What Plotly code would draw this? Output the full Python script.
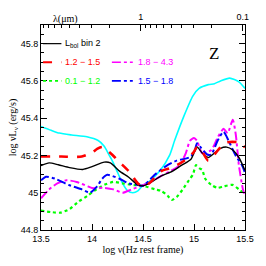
import plotly.graph_objects as go
import numpy as np

# ---- data (log nu, log nuLnu) ----
black_x = [13.5, 13.58, 13.67, 13.78, 13.91, 14.0, 14.12, 14.18, 14.27, 14.36, 14.45, 14.5, 14.56, 14.68, 14.79, 14.88, 14.97, 15.03, 15.08, 15.14, 15.2, 15.26, 15.32, 15.38, 15.44, 15.5]
black_y = [45.145, 45.16, 45.15, 45.135, 45.125, 45.14, 45.164, 45.16, 45.116, 45.083, 45.042, 45.037, 45.05, 45.09, 45.116, 45.148, 45.18, 45.245, 45.213, 45.189, 45.213, 45.238, 45.245, 45.229, 45.189, 45.12]

red_x = [13.5, 13.7, 13.9, 14.0, 14.05, 14.1, 14.18, 14.27, 14.36, 14.45, 14.5, 14.56, 14.68, 14.77, 14.86, 14.95, 15.0, 15.03, 15.08, 15.14, 15.2, 15.26, 15.32, 15.44, 15.47, 15.5]
red_y = [45.194, 45.194, 45.194, 45.215, 45.235, 45.245, 45.213, 45.164, 45.116, 45.05, 45.034, 45.05, 45.116, 45.132, 45.156, 45.19, 45.22, 45.245, 45.221, 45.172, 45.205, 45.245, 45.27, 45.27, 45.254, 45.245]

blue_x = [13.5, 13.55, 13.64, 13.77, 13.9, 13.98, 14.05, 14.1, 14.15, 14.27, 14.36, 14.45, 14.5, 14.62, 14.74, 14.83, 14.95, 15.0, 15.03, 15.07, 15.13, 15.17, 15.23, 15.29, 15.34, 15.41, 15.47, 15.5]
blue_y = [45.067, 45.086, 45.075, 45.042, 45.018, 45.0, 45.034, 45.075, 45.096, 45.075, 45.05, 45.042, 45.037, 45.099, 45.148, 45.172, 45.189, 45.213, 45.265, 45.24, 45.205, 45.205, 45.278, 45.327, 45.278, 45.197, 45.148, 45.107]

mag_x = [13.5, 13.58, 13.66, 13.75, 13.85, 13.96, 14.0, 14.12, 14.21, 14.3, 14.39, 14.48, 14.55, 14.68, 14.77, 14.86, 14.92, 14.96, 15.0, 15.03, 15.08, 15.17, 15.23, 15.29, 15.33, 15.38, 15.41, 15.44, 15.48, 15.5]
mag_y = [44.97, 45.018, 45.05, 45.067, 45.058, 45.034, 45.025, 45.026, 45.018, 45.0, 45.018, 45.037, 45.05, 45.091, 45.116, 45.148, 45.213, 45.278, 45.294, 45.278, 45.213, 45.229, 45.294, 45.343, 45.32, 45.392, 45.31, 45.148, 45.018, 44.985]

green_x = [13.5, 13.6, 13.69, 13.78, 13.87, 13.96, 14.02, 14.12, 14.21, 14.3, 14.39, 14.5, 14.62, 14.68, 14.74, 14.78, 14.83, 14.89, 14.95, 14.99, 15.02, 15.05, 15.08, 15.11, 15.17, 15.23, 15.29, 15.38, 15.44, 15.5]
green_y = [44.904, 44.896, 44.893, 44.912, 44.953, 44.985, 45.01, 45.042, 45.058, 45.05, 45.042, 45.037, 45.018, 45.01, 44.985, 44.961, 44.977, 45.018, 45.067, 45.099, 45.148, 45.132, 45.123, 45.075, 45.042, 45.026, 45.034, 45.042, 45.018, 44.994]

cyan_x = [13.5, 13.6, 13.68, 13.8, 13.95, 14.06, 14.12, 14.16, 14.2, 14.25, 14.3, 14.35, 14.4, 14.45, 14.5, 14.56, 14.67, 14.76, 14.81, 14.9, 14.99, 15.05, 15.14, 15.2, 15.26, 15.35, 15.44, 15.5]
cyan_y = [45.356, 45.335, 45.32, 45.31, 45.30, 45.28, 45.25, 45.21, 45.17, 45.11, 45.05, 45.01, 45.0, 45.01, 45.04, 45.06, 45.12, 45.2, 45.28, 45.41, 45.52, 45.56, 45.58, 45.585, 45.6, 45.615, 45.595, 45.56]

legend_labels = ["L<sub>bol</sub> bin 2", "1.2 − 1.5", "1.8 − 4.3", "0.1 − 1.2", "1.5 − 1.8"]
x_tick_vals = [13.5, 14, 14.5, 15, 15.5]
x_tick_text = ["13.5", "14", "14.5", "15", "15.5"]
y_tick_vals = [44.8, 45, 45.2, 45.4, 45.6, 45.8]
y_tick_text = ["44.8", "45", "45.2", "45.4", "45.6", "45.8"]
top_tick_vals_um = [1, 0.1]
top_tick_text = ["1", "0.1"]
top_minor_um = [9, 8, 7, 6, 5, 4, 3, 2, 0.9, 0.8, 0.7, 0.6, 0.5, 0.4, 0.3, 0.2]

def lognu(lam_um):
    return float(np.log10(2.99792458e14 / lam_um))

fig = go.Figure()
series = [
    (cyan_x, cyan_y, "#00ffff", "solid", 1.6),
    (green_x, green_y, "#00ff00", "dot", 2.2),
    (mag_x, mag_y, "#ff00ff", "dashdot", 2.0),
    (blue_x, blue_y, "#0000ff", "dashdot", 2.0),
    (black_x, black_y, "#000000", "solid", 1.4),
    (red_x, red_y, "#ff0000", "dash", 2.6),
]
for xs, ys, c, d, w in series:
    fig.add_trace(go.Scatter(x=xs, y=ys, mode="lines", line=dict(color=c, dash=d, width=w, shape="spline", smoothing=0.6), showlegend=False, hoverinfo="skip"))

# invisible trace carrying the top (wavelength) axis
fig.add_trace(go.Scatter(x=[13.5, 15.5], y=[45, 45], xaxis="x2", mode="lines", line=dict(width=0), showlegend=False, hoverinfo="skip"))

# manual legend
leg = [
    (13.52, 13.70, 13.72, 45.8, "#000000", "solid", 1.2, legend_labels[0]),
    (13.52, 13.70, 13.72, 45.7, "#ff0000", "dash", 2.0, legend_labels[1]),
    (14.195, 14.40, 14.43, 45.7, "#ff00ff", "dashdot", 1.6, legend_labels[2]),
    (13.52, 13.70, 13.72, 45.6, "#00ff00", "dot", 1.6, legend_labels[3]),
    (14.195, 14.40, 14.43, 45.6, "#0000ff", "dashdot", 1.6, legend_labels[4]),
]
shapes = []
annotations = []
for x0, x1, xt, y, c, d, w, t in leg:
    shapes.append(dict(type="line", xref="x", yref="y", x0=x0, x1=x1, y0=y, y1=y, line=dict(color=c, dash=d, width=w)))
    annotations.append(dict(x=xt, y=y, xref="x", yref="y", text=t, showarrow=False, xanchor="left", yanchor="middle",
                            font=dict(family="Liberation Sans", size=9, color=c)))
annotations.append(dict(x=15.2, y=45.745, xref="x", yref="y", text="Z", showarrow=False,
                        font=dict(family="Liberation Serif", size=17, color="black")))
annotations.append(dict(x=0.05, y=1.0, xref="paper", yref="paper", text="λ(μm)", showarrow=False,
                        yanchor="bottom", yshift=-2, font=dict(family="Liberation Serif", size=10, color="black")))

tickfont = dict(family="Liberation Sans", size=9, color="black")

fig.update_layout(
    width=266, height=266,
    margin=dict(l=29, r=14, t=14, b=28),
    paper_bgcolor="white", plot_bgcolor="white",
    shapes=shapes, annotations=annotations,
    xaxis=dict(range=[13.5, 15.5], tickvals=x_tick_vals, ticktext=x_tick_text,
               showline=True, linecolor="black", linewidth=1, ticks="inside", tickcolor="black",
               showgrid=False, zeroline=False, tickfont=tickfont, ticklen=6,
               minor=dict(dtick=0.1, tick0=13.5, ticklen=3, ticks="inside", tickcolor="black"),
               title=dict(text="log ν(Hz rest frame)", font=dict(family="Liberation Serif", size=10, color="black"), standoff=3)),
    yaxis=dict(range=[44.8, 45.9], tickvals=y_tick_vals, ticktext=y_tick_text,
               showline=True, linecolor="black", linewidth=1, ticks="inside", tickcolor="black", mirror="ticks",
               showgrid=False, zeroline=False, tickfont=tickfont, ticklen=6,
               minor=dict(dtick=0.05, tick0=44.8, ticklen=3, ticks="inside", tickcolor="black"),
               title=dict(text="log νL<sub>ν</sub> (erg/s)", font=dict(family="Liberation Serif", size=10, color="black"), standoff=2)),
    xaxis2=dict(overlaying="x", side="top", range=[13.5, 15.5],
                tickvals=[lognu(v) for v in top_tick_vals_um], ticktext=top_tick_text, ticklen=6,
                showline=True, linecolor="black", linewidth=1, ticks="inside", tickcolor="black",
                showgrid=False, zeroline=False, tickfont=tickfont,
                minor=dict(tickmode="array", tickvals=[lognu(v) for v in top_minor_um], ticklen=3, ticks="inside", tickcolor="black")),
)
fig.write_html("out.html", config={"displayModeBar": False, "staticPlot": True},
               post_script="document.body.style.margin='0';document.body.style.overflow='hidden';")
